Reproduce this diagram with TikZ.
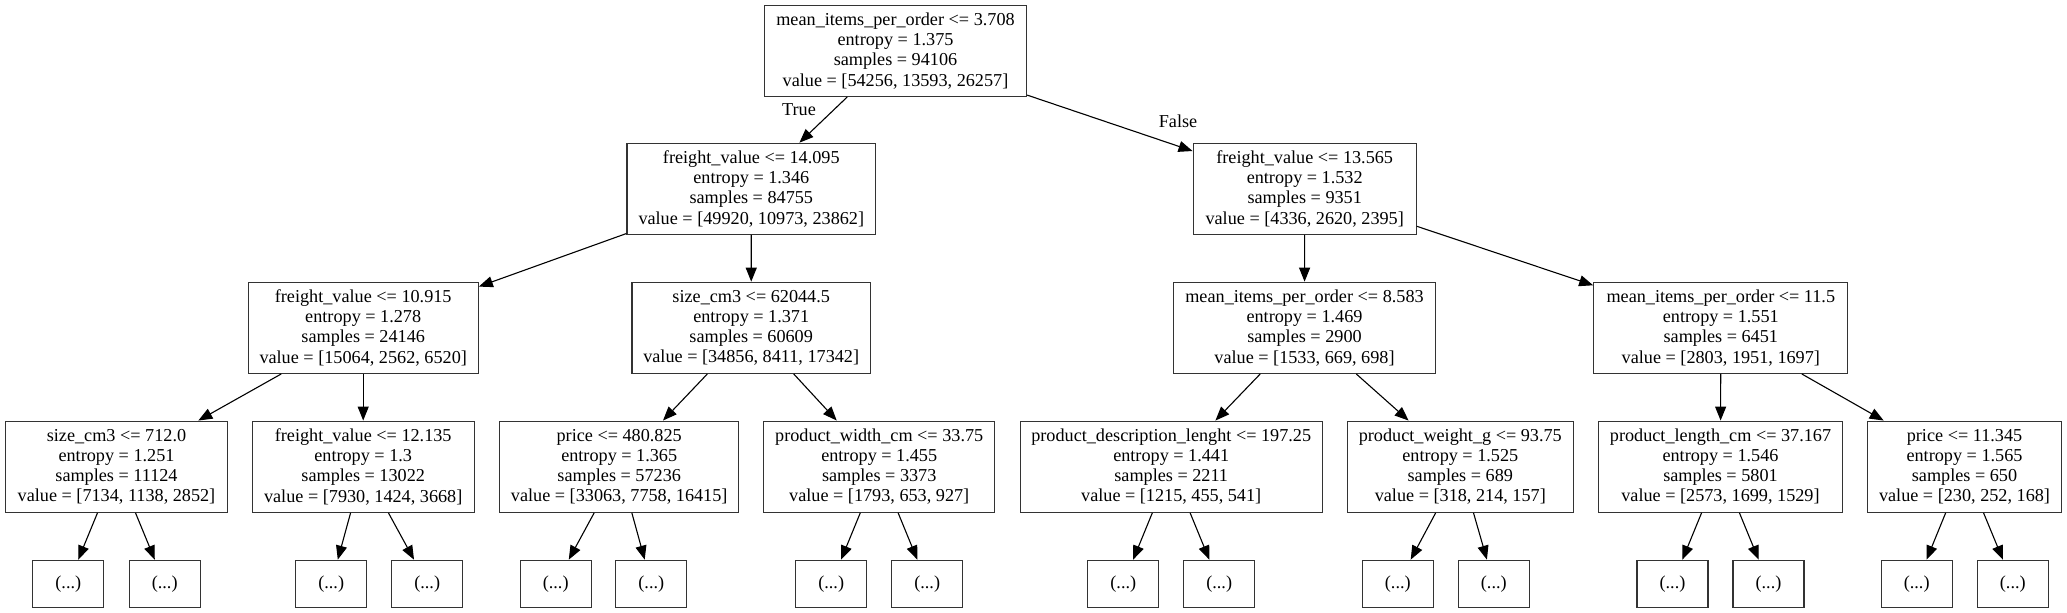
\documentclass[tikz,border=0pt]{standalone}
\usepackage{fontspec}
\setmainfont{Liberation Serif}
\usetikzlibrary{arrows.meta}
\begin{document}
\begin{tikzpicture}[x=1pt,y=-1pt,
  tn/.style={draw=black!80, line width=1.3pt, align=center, inner sep=0pt,
    font=\fontsize{18.2}{20.2}\selectfont, minimum height=91pt},
  leaf/.style={draw=black!80, line width=1.3pt, inner sep=0pt,
    font=\fontsize{18.2}{20.2}\selectfont, minimum width=71pt, minimum height=47pt},
  edge/.style={line width=1.1pt, -{Triangle[length=14pt,width=11pt]}},
  lbl/.style={font=\fontsize{18.2}{20.2}\selectfont, inner sep=0pt}]
\useasboundingbox[fill=white] (0,0) rectangle (2067,613);
% level 0
\node[tn, minimum width=262pt] (r) at (895.5,50.8) {mean\_items\_per\_order <= 3.708\\entropy = 1.375\\samples = 94106\\value = [54256, 13593, 26257]};
% level 1
\node[tn, minimum width=248.5pt] (a) at (751.3,188.8) {freight\_value <= 14.095\\entropy = 1.346\\samples = 84755\\value = [49920, 10973, 23862]};
\node[tn, minimum width=223pt] (b) at (1304.7,188.8) {freight\_value <= 13.565\\entropy = 1.532\\samples = 9351\\value = [4336, 2620, 2395]};
% level 2
\node[tn, minimum width=230pt] (aa) at (363.2,327.8) {freight\_value <= 10.915\\entropy = 1.278\\samples = 24146\\value = [15064, 2562, 6520]};
\node[tn, minimum width=238.5pt] (ab) at (751.2,327.8) {size\_cm3 <= 62044.5\\entropy = 1.371\\samples = 60609\\value = [34856, 8411, 17342]};
\node[tn, minimum width=262pt] (ba) at (1304.5,327.8) {mean\_items\_per\_order <= 8.583\\entropy = 1.469\\samples = 2900\\value = [1533, 669, 698]};
\node[tn, minimum width=254pt] (bb) at (1720.8,327.8) {mean\_items\_per\_order <= 11.5\\entropy = 1.551\\samples = 6451\\value = [2803, 1951, 1697]};
% level 3
\node[tn, minimum width=222.5pt] (aaa) at (116.5,466.7) {size\_cm3 <= 712.0\\entropy = 1.251\\samples = 11124\\value = [7134, 1138, 2852]};
\node[tn, minimum width=222pt] (aab) at (363.2,466.7) {freight\_value <= 12.135\\entropy = 1.3\\samples = 13022\\value = [7930, 1424, 3668]};
\node[tn, minimum width=239pt] (aba) at (619.2,466.7) {price <= 480.825\\entropy = 1.365\\samples = 57236\\value = [33063, 7758, 16415]};
\node[tn, minimum width=231pt] (abb) at (879.2,466.7) {product\_width\_cm <= 33.75\\entropy = 1.455\\samples = 3373\\value = [1793, 653, 927]};
\node[tn, minimum width=302pt] (baa) at (1171.2,466.7) {product\_description\_lenght <= 197.25\\entropy = 1.441\\samples = 2211\\value = [1215, 455, 541]};
\node[tn, minimum width=226pt] (bab) at (1460.3,466.7) {product\_weight\_g <= 93.75\\entropy = 1.525\\samples = 689\\value = [318, 214, 157]};
\node[tn, minimum width=244.5pt] (bba) at (1720.5,466.7) {product\_length\_cm <= 37.167\\entropy = 1.546\\samples = 5801\\value = [2573, 1699, 1529]};
\node[tn, minimum width=194.5pt] (bbb) at (1964.5,466.7) {price <= 11.345\\entropy = 1.565\\samples = 650\\value = [230, 252, 168]};
% leaves
\node[leaf] (l1) at (68.3,583.8) {(...)};
\node[leaf] (l2) at (164.7,583.8) {(...)};
\node[leaf] (l3) at (331.2,583.8) {(...)};
\node[leaf] (l4) at (427.2,583.8) {(...)};
\node[leaf] (l5) at (555.7,583.8) {(...)};
\node[leaf] (l6) at (651.3,583.8) {(...)};
\node[leaf] (l7) at (831.2,583.8) {(...)};
\node[leaf] (l8) at (927.2,583.8) {(...)};
\node[leaf] (l9) at (1123.3,583.8) {(...)};
\node[leaf] (l10) at (1219.2,583.8) {(...)};
\node[leaf] (l11) at (1397.8,583.8) {(...)};
\node[leaf] (l12) at (1493.8,583.8) {(...)};
\node[leaf] (l13) at (1672.5,583.8) {(...)};
\node[leaf] (l14) at (1768.5,583.8) {(...)};
\node[leaf] (l15) at (1916.7,583.8) {(...)};
\node[leaf] (l16) at (2012.8,583.8) {(...)};
% edges
\draw[edge] (r) -- (a);
\draw[edge] (r) -- (b);
\draw[edge] (a) -- (aa);
\draw[edge] (a) -- (ab);
\draw[edge] (b) -- (ba);
\draw[edge] (b) -- (bb);
\draw[edge] (aa) -- (aaa);
\draw[edge] (aa) -- (aab);
\draw[edge] (ab) -- (aba);
\draw[edge] (ab) -- (abb);
\draw[edge] (ba) -- (baa);
\draw[edge] (ba) -- (bab);
\draw[edge] (bb) -- (bba);
\draw[edge] (bb) -- (bbb);
\draw[edge] (aaa) -- (l1);
\draw[edge] (aaa) -- (l2);
\draw[edge] (aab) -- (l3);
\draw[edge] (aab) -- (l4);
\draw[edge] (aba) -- (l5);
\draw[edge] (aba) -- (l6);
\draw[edge] (abb) -- (l7);
\draw[edge] (abb) -- (l8);
\draw[edge] (baa) -- (l9);
\draw[edge] (baa) -- (l10);
\draw[edge] (bab) -- (l11);
\draw[edge] (bab) -- (l12);
\draw[edge] (bba) -- (l13);
\draw[edge] (bba) -- (l14);
\draw[edge] (bbb) -- (l15);
\draw[edge] (bbb) -- (l16);
% labels
\node[lbl] (tl) at (799,110) {True};
\node[lbl] (fl) at (1178,121) {False};
\end{tikzpicture}
\end{document}
